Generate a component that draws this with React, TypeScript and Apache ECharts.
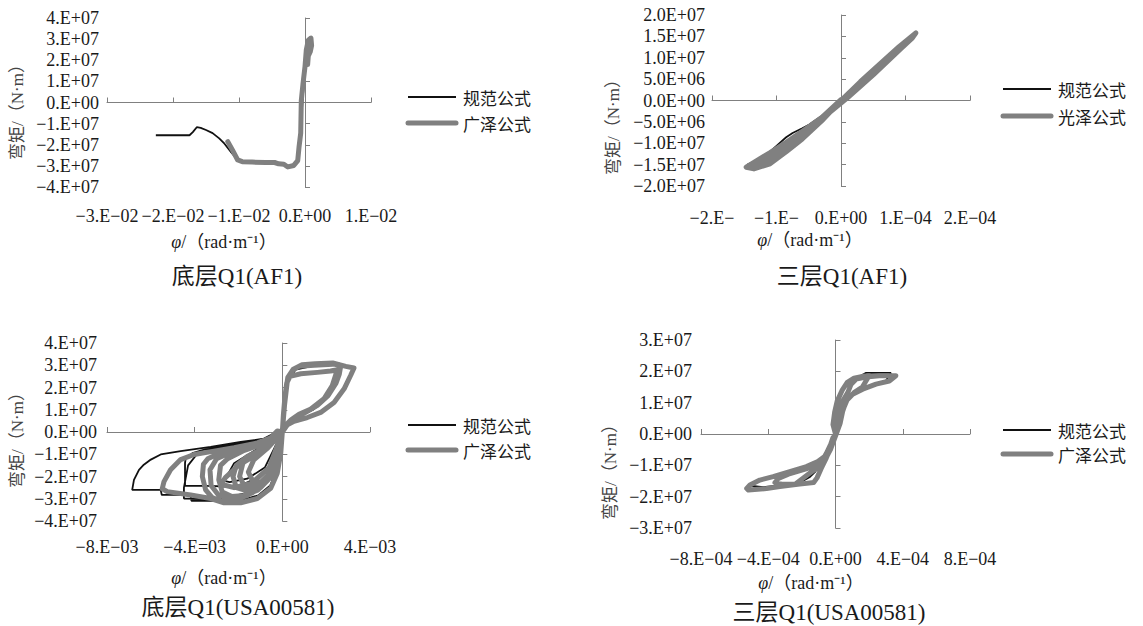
import React, { useEffect, useRef } from "react";
import * as echarts from "echarts";

const SERIF = "Liberation Serif, Times New Roman, serif";
const CJK = "Noto Sans CJK SC, sans-serif";
const MIX = "Liberation Serif, Noto Sans CJK SC, serif";

const codeName = "规范公式";
const gzName = "广泽公式";
const gzName2 = "光泽公式";
const yAxisName = "弯矩/（N·m）";
const xAxisNameTail = "/（rad·m⁻¹）";
const titles = ["底层Q1(AF1)", "三层Q1(AF1)", "底层Q1(USA00581)", "三层Q1(USA00581)"];

// ---------- Panel 1: 底层Q1(AF1)  (x in 1e-2, y in 1e7)
const p1XUnit = 1e-2;
const p1YUnit = 1e7;
const p1XLabels = ["−3.E−02", "−2.E−02", "−1.E−02", "0.E+00", "1.E−02"];
const p1YLabels = ["−4.E+07", "−3.E+07", "−2.E+07", "−1.E+07", "0.E+00", "1.E+07", "2.E+07", "3.E+07", "4.E+07"];
const p1Code = [
  [-2.26, -1.55], [-1.75, -1.55], [-1.70, -1.40], [-1.64, -1.17], [-1.58, -1.20], [-1.50, -1.30],
  [-1.40, -1.45], [-1.30, -1.70], [-1.22, -1.95], [-1.12, -2.35], [-1.02, -2.72], [-0.90, -2.80],
  [-0.70, -2.82], [-0.46, -2.83], [-0.35, -2.92], [-0.26, -3.02], [-0.16, -2.96], [-0.10, -2.72],
  [-0.08, -2.10], [-0.05, -0.50], [-0.02, 0.80], [0.02, 2.30], [0.06, 2.95],
];
const p1Gz = [
  [-1.17, -1.85], [-1.10, -2.25], [-1.02, -2.72], [-0.95, -2.80], [-0.80, -2.82], [-0.60, -2.84],
  [-0.46, -2.84], [-0.40, -2.90], [-0.32, -2.92], [-0.26, -3.05], [-0.17, -2.98], [-0.11, -2.75],
  [-0.09, -2.10], [-0.065, -1.45], [-0.056, 0.10], [-0.03, 0.90], [0.00, 1.70], [0.02, 2.50],
  [0.05, 2.95], [0.09, 3.05], [0.10, 2.70], [0.08, 2.40], [0.05, 2.20], [0.04, 1.80],
];

// ---------- Panel 2: 三层Q1(AF1)  (x in 1e-4, y in 1e7)
const p2XUnit = 1e-4;
const p2YUnit = 1e7;
const p2XLabels = ["−2.E−", "−1.E−", "0.E+00", "1.E−04", "2.E−04"];
const p2YLabels = ["−2.0E+07", "−1.5E+07", "−1.0E+07", "−5.0E+06", "0.0E+00", "5.0E+06", "1.0E+07", "1.5E+07", "2.0E+07"];
const p2Code = [
  [-1.45, -1.50], [-1.30, -1.40], [-1.13, -1.24], [-1.00, -1.06], [-0.85, -0.86], [-0.75, -0.76],
  [-0.60, -0.65], [-0.49, -0.56], [-0.30, -0.36], [0, 0], [0.30, 0.42], [0.60, 0.82], [0.90, 1.22], [1.12, 1.52],
];
const p2Gz = [
  [0, 0], [0.30, 0.44], [0.60, 0.85], [0.90, 1.26], [1.16, 1.58], [1.10, 1.45], [0.80, 1.03], [0.50, 0.62],
  [0.20, 0.20], [0, -0.05], [-0.30, -0.40], [-0.60, -0.72], [-0.85, -0.98], [-1.10, -1.22], [-1.30, -1.40],
  [-1.47, -1.56], [-1.35, -1.60], [-1.10, -1.48], [-0.85, -1.20], [-0.60, -0.90], [-0.30, -0.48], [0, 0],
  [0.35, 0.50], [0.70, 0.95], [1.00, 1.38], [1.12, 1.50], [0.90, 1.17], [0.50, 0.60], [0.10, 0.06],
  [-0.40, -0.56], [-0.80, -1.02], [-1.20, -1.38], [-1.42, -1.54], [-1.20, -1.46], [-0.90, -1.16],
  [-0.50, -0.68], [0, 0.02],
];

// ---------- Panel 3: 底层Q1(USA00581)  (x in 1e-3, y in 1e7)
const p3XUnit = 1e-3;
const p3YUnit = 1e7;
const p3XLabels = ["−8.E−03", "−4.E=03", "0.E+00", "4.E−03"];
const p3YLabels = ["−4.E+07", "−3.E+07", "−2.E+07", "−1.E+07", "0.E+00", "1.E+07", "2.E+07", "3.E+07", "4.E+07"];
const p3Code = [
  [0, 0], [0.1, 1.2], [0.25, 2.3], [0.6, 2.8], [1.5, 3.0], [2.3, 3.05], [2.6, 3.08], [2.55, 2.6], [2.4, 2.2],
  [2.2, 1.8], [1.9, 1.4], [1.4, 1.0], [0.8, 0.7], [0.3, 0.35], [0, 0],
  [-1.2, -0.8], [-2.2, -1.4], [-2.65, -2.2], [-2.4, -2.25], [-1.6, -2.1], [-0.8, -1.6], [0, 0],
  [-1.5, -0.55], [-3.0, -0.75], [-3.9, -1.0], [-4.3, -1.5], [-4.49, -2.5], [-4.49, -2.99], [-3.5, -3.0],
  [-2.5, -2.95], [-1.5, -2.7], [-0.7, -2.2], [-0.2, -1.2], [0, 0],
  [-1.0, -0.4], [-2.5, -0.62], [-3.6, -0.8], [-4.1, -0.95], [-4.41, -1.2], [-4.44, -1.39], [-4.44, -2.42],
  [-3.5, -2.42], [-2.51, -2.45], [-1.8, -2.35], [-1.0, -2.0], [-0.4, -1.3], [0, 0],
  [-0.3, -0.03], [-0.84, -0.3], [-1.9, -0.45], [-3.27, -0.67], [-4.64, -0.86], [-5.55, -1.01], [-6.0, -1.24],
  [-6.32, -1.47], [-6.54, -1.7], [-6.77, -2.15], [-6.85, -2.6], [-5.55, -2.6], [-5.5, -2.83], [-4.18, -2.83],
  [-4.15, -3.09], [-3.12, -3.09], [-2.5, -3.1], [-1.8, -3.05], [-1.1, -2.85], [-0.55, -2.4], [-0.25, -1.7],
  [-0.08, -0.8], [0, 0],
];
const p3Gz = [
  [0, 0], [-0.7, -0.75], [-1.3, -1.25], [-1.55, -1.8], [-1.3, -2.3], [-0.8, -2.2], [-0.4, -1.5], [0, 0],
  [0.05, 0.8], [0.12, 1.6], [0.2, 2.2], [0.35, 2.5], [0.84, 2.62], [1.6, 2.68], [2.2, 2.74], [2.51, 2.8],
  [2.28, 2.09], [1.9, 1.49], [1.3, 1.03], [0.76, 0.8], [0.4, 0.55], [0.15, 0.3], [0, 0],
  [-0.6, -0.6], [-1.3, -0.95], [-1.8, -1.4], [-1.95, -2.0], [-1.7, -2.5], [-1.2, -2.45], [-0.6, -1.9],
  [-0.2, -1.0], [0, 0],
  [-0.8, -0.7], [-1.6, -1.1], [-2.1, -1.5], [-2.25, -2.0], [-2.1, -2.5], [-1.6, -2.65], [-1.0, -2.4],
  [-0.5, -1.8], [0, 0],
  [0.1, 1.2], [0.23, 2.3], [0.46, 2.77], [0.76, 2.95], [1.45, 3.0], [2.3, 3.05], [2.67, 3.0], [2.6, 2.6],
  [2.45, 2.2], [2.1, 1.65], [1.6, 1.2], [1.0, 0.85], [0.5, 0.6], [0.1, 0.2], [0, 0],
  [-0.8, -0.5], [-1.8, -0.85], [-2.5, -1.2], [-2.82, -1.5], [-2.9, -2.15], [-2.74, -2.7], [-2.3, -2.9],
  [-1.7, -2.85], [-1.1, -2.6], [-0.6, -2.1], [-0.25, -1.4], [0, 0],
  [-0.5, -0.45], [-1.4, -0.7], [-2.3, -0.9], [-3.0, -1.2], [-3.3, -1.7], [-3.25, -2.4], [-2.9, -2.85],
  [-2.2, -2.98], [-1.4, -2.75], [-0.8, -2.3], [-0.3, -1.5], [0, 0],
  [0.08, 1.0], [0.15, 1.8], [0.25, 2.45], [0.5, 2.82], [0.9, 3.02], [1.5, 3.07], [2.3, 3.1], [2.9, 2.95],
  [3.27, 2.88], [3.12, 2.55], [2.82, 1.94], [2.36, 1.33], [1.75, 0.88], [1.14, 0.65], [0.53, 0.48],
  [0.23, 0.32], [0, 0],
  [-0.6, -0.35], [-1.5, -0.6], [-2.4, -0.8], [-2.97, -1.0], [-3.4, -1.2], [-3.6, -1.45], [-3.65, -2.0],
  [-3.5, -2.6], [-3.2, -2.95], [-2.8, -3.1], [-2.2, -3.05], [-1.6, -2.85], [-1.0, -2.5], [-0.5, -2.0],
  [-0.2, -1.2], [0, 0],
  [-1.0, -0.9], [-2.0, -1.5], [-2.6, -2.05], [-2.8, -2.35], [-2.2, -2.5], [-1.4, -2.3], [-0.6, -1.6], [0, 0],
  [-0.23, 0.05], [-0.53, -0.26], [-1.14, -0.49], [-2.2, -0.71], [-3.12, -0.86], [-4.03, -1.01],
  [-4.64, -1.24], [-5.1, -1.7], [-5.4, -2.23], [-5.48, -2.55], [-5.25, -2.68], [-4.18, -2.83],
  [-3.27, -2.99], [-2.66, -3.18], [-1.9, -3.18], [-1.14, -2.99], [-0.53, -2.53], [-0.23, -1.85],
  [-0.07, -0.94], [0, 0],
];

// ---------- Panel 4: 三层Q1(USA00581)  (x in 1e-4, y in 1e7)
const p4XUnit = 1e-4;
const p4YUnit = 1e7;
const p4XLabels = ["−8.E−04", "−4.E−04", "0.E+00", "4.E−04", "8.E−04"];
const p4YLabels = ["−3.E+07", "−2.E+07", "−1.E+07", "0.E+00", "1.E+07", "2.E+07", "3.E+07"];
const p4Code = [
  [0, 0], [0.05, 0.5], [0.25, 0.85], [0.45, 1.07], [0.75, 1.33], [0.95, 1.6], [1.25, 1.78], [1.82, 1.95],
  [3.3, 1.95], [3.0, 1.7], [2.3, 1.58], [1.6, 1.42], [1.0, 1.25], [0.6, 1.02], [0.4, 0.7], [0.2, 0.28],
  [0, 0], [-0.2, -0.15], [-0.4, -0.48], [-0.7, -0.74], [-1.1, -0.9], [-1.8, -1.06], [-2.8, -1.22],
  [-3.8, -1.38], [-4.6, -1.5], [-5.1, -1.65], [-4.3, -1.7], [-3.3, -1.64], [-2.4, -1.6], [-1.95, -1.5],
  [-1.55, -1.38], [-1.2, -1.2], [-0.8, -0.8], [-0.4, -0.4], [0, 0],
];
const p4Gz = [
  [0, 0], [0.04, 0.51], [0.24, 0.84], [0.43, 1.05], [0.73, 1.32], [0.93, 1.59], [1.22, 1.75], [1.82, 1.82],
  [2.6, 1.86], [3.59, 1.86], [3.2, 1.69], [2.41, 1.59], [1.62, 1.43], [1.02, 1.27], [0.63, 1.05],
  [0.43, 0.73], [0.24, 0.3], [0.02, 0],
  [-0.16, -0.13], [-0.36, -0.45], [-0.65, -0.72], [-1.05, -0.88], [-1.73, -1.04], [-2.72, -1.2],
  [-3.71, -1.36], [-4.5, -1.47], [-5.09, -1.63], [-5.28, -1.74], [-5.18, -1.79], [-4.1, -1.74],
  [-3.31, -1.68], [-2.13, -1.6], [-1.3, -1.55], [-1.1, -1.4], [-0.85, -1.1], [-0.55, -0.77],
  [-0.25, -0.4], [0, 0],
  [-0.15, 0.3], [-0.05, 0.7], [0.1, 1.05], [0.4, 1.4], [0.7, 1.65], [1.1, 1.78], [1.6, 1.84], [2.0, 1.86],
  [1.6, 1.5], [1.1, 1.32], [0.7, 1.1], [0.45, 0.78], [0.28, 0.35], [0.08, 0.05], [-0.3, -0.5],
  [-0.6, -0.8], [-1.0, -0.98], [-1.8, -1.12], [-2.8, -1.28], [-3.4, -1.42], [-3.6, -1.55], [-3.2, -1.6],
  [-2.4, -1.6], [-2.03, -1.45], [-1.6, -1.28], [-1.14, -1.1], [-0.7, -0.8], [-0.35, -0.4], [0, 0],
];

// ---------- Layout / styling (not data)
const BLACK = "#111111";
const GRAY = "#808080";
const AXIS = "#808080";
const TEXT = "#1a1a1a";

const panels = [
  {
    grid: { left: 107, top: 18, width: 264, height: 169 },
    x: { min: -3, max: 1, interval: 1, unit: p1XUnit, labels: p1XLabels, margin: 20 },
    y: { min: -4, max: 4, interval: 1, unit: p1YUnit, labels: p1YLabels, margin: 8 },
    code: p1Code, gz: p1Gz, gzLabel: gzName,
    legend: { x: 408, y: 97, gap: 26 }, yName: [17, 108], xName: [224, 242], title: [237, 276],
  },
  {
    grid: { left: 712, top: 15, width: 258, height: 171 },
    x: { min: -2, max: 2, interval: 1, unit: p2XUnit, labels: p2XLabels, margin: 23 },
    y: { min: -2, max: 2, interval: 0.5, unit: p2YUnit, labels: p2YLabels, margin: 7 },
    code: p2Code, gz: p2Gz, gzLabel: gzName2,
    legend: { x: 1003, y: 89, gap: 27 }, yName: [613, 123], xName: [810, 240], title: [842, 276],
  },
  {
    grid: { left: 107, top: 343, width: 263, height: 178 },
    x: { min: -8, max: 4, interval: 4, unit: p3XUnit, labels: p3XLabels, margin: 17 },
    y: { min: -4, max: 4, interval: 1, unit: p3YUnit, labels: p3YLabels, margin: 10 },
    code: p3Code, gz: p3Gz, gzLabel: gzName,
    legend: { x: 408, y: 425, gap: 25 }, yName: [17, 436], xName: [224, 578], title: [238, 607],
  },
  {
    grid: { left: 701, top: 340, width: 269, height: 188 },
    x: { min: -8, max: 8, interval: 4, unit: p4XUnit, labels: p4XLabels, margin: 22 },
    y: { min: -3, max: 3, interval: 1, unit: p4YUnit, labels: p4YLabels, margin: 9 },
    code: p4Code, gz: p4Gz, gzLabel: gzName,
    legend: { x: 1003, y: 430, gap: 24 }, yName: [610, 468], xName: [811, 583], title: [829, 612],
  },
];

function buildOption() {
  const grid: any[] = [];
  const xAxis: any[] = [];
  const yAxis: any[] = [];
  const series: any[] = [];
  const graphic: any[] = [];

  panels.forEach((p, i) => {
    grid.push({ ...p.grid, containLabel: false });
    const xr = { min: p.x.min * p.x.unit, max: p.x.max * p.x.unit, interval: p.x.interval * p.x.unit };
    const yr = { min: p.y.min * p.y.unit, max: p.y.max * p.y.unit, interval: p.y.interval * p.y.unit };
    const xFmt = (v: number) => p.x.labels[Math.round((v - xr.min) / xr.interval)] ?? "";
    const yFmt = (v: number) => p.y.labels[Math.round((v - yr.min) / yr.interval)] ?? "";
    xAxis.push({
      type: "value", gridIndex: i, position: "bottom", ...xr,
      axisLine: { show: true, onZero: true, lineStyle: { color: AXIS, width: 1 } },
      axisTick: { show: true, inside: true, length: 5, lineStyle: { color: AXIS, width: 1 } },
      axisLabel: { show: false }, splitLine: { show: false },
    });
    xAxis.push({
      type: "value", gridIndex: i, position: "bottom", ...xr,
      axisLine: { show: false, onZero: false }, axisTick: { show: false }, splitLine: { show: false },
      axisLabel: {
        show: true, margin: p.x.margin, formatter: xFmt, showMinLabel: true, showMaxLabel: true,
        fontFamily: SERIF, fontSize: 18, color: TEXT,
      },
    });
    yAxis.push({
      type: "value", gridIndex: i, position: "left", ...yr,
      axisLine: { show: true, onZero: true, lineStyle: { color: AXIS, width: 1 } },
      axisTick: { show: true, inside: true, length: 5, lineStyle: { color: AXIS, width: 1 } },
      axisLabel: { show: false }, splitLine: { show: false },
    });
    yAxis.push({
      type: "value", gridIndex: i, position: "left", ...yr,
      axisLine: { show: false, onZero: false }, axisTick: { show: false }, splitLine: { show: false },
      axisLabel: {
        show: true, margin: p.y.margin, formatter: yFmt, showMinLabel: true, showMaxLabel: true,
        fontFamily: SERIF, fontSize: 18, color: TEXT,
      },
    });

    const conv = (arr: number[][]) => arr.map(([a, b]) => [a * p.x.unit, b * p.y.unit]);
    series.push({
      type: "line", name: codeName, xAxisIndex: 2 * i, yAxisIndex: 2 * i,
      data: conv(p.code), symbol: "none", smooth: false, z: 2,
      lineStyle: { color: BLACK, width: 1.8 }, itemStyle: { color: BLACK },
    });
    series.push({
      type: "line", name: p.gzLabel, xAxisIndex: 2 * i, yAxisIndex: 2 * i,
      data: conv(p.gz), symbol: "none", smooth: false, z: 3,
      lineStyle: { color: GRAY, width: 5, join: "round", cap: "round" }, itemStyle: { color: GRAY },
    });

    const lg = p.legend;
    graphic.push({ type: "line", shape: { x1: lg.x, y1: lg.y, x2: lg.x + 48, y2: lg.y }, style: { stroke: BLACK, lineWidth: 2 } });
    graphic.push({ type: "text", x: lg.x + 55, y: lg.y, style: { text: codeName, font: `17px ${CJK}`, fill: TEXT, verticalAlign: "middle", align: "left" } });
    graphic.push({ type: "line", shape: { x1: lg.x, y1: lg.y + lg.gap, x2: lg.x + 48, y2: lg.y + lg.gap }, style: { stroke: GRAY, lineWidth: 5, lineCap: "round" } });
    graphic.push({ type: "text", x: lg.x + 55, y: lg.y + lg.gap, style: { text: p.gzLabel, font: `17px ${CJK}`, fill: TEXT, verticalAlign: "middle", align: "left" } });

    graphic.push({
      type: "text", x: p.yName[0], y: p.yName[1], rotation: Math.PI / 2,
      style: { text: yAxisName, font: `17px ${MIX}`, fill: "#444", align: "center", verticalAlign: "middle" },
    });
    graphic.push({
      type: "text", x: p.xName[0], y: p.xName[1],
      style: {
        text: `{i|φ}{n|${xAxisNameTail}}`, align: "center", verticalAlign: "middle",
        rich: {
          i: { fontFamily: SERIF, fontStyle: "italic", fontSize: 18, fill: TEXT, color: TEXT },
          n: { fontFamily: MIX, fontSize: 18, fill: TEXT, color: TEXT },
        },
      },
    });
    graphic.push({
      type: "text", x: p.title[0], y: p.title[1],
      style: { text: titles[i], font: `23px ${MIX}`, fill: TEXT, align: "center", verticalAlign: "middle" },
    });
  });

  return { animation: false, backgroundColor: "#ffffff", grid, xAxis, yAxis, series, graphic };
}

export default function App() {
  const ref = useRef<HTMLDivElement>(null);
  useEffect(() => {
    if (!ref.current) return;
    const chart = echarts.init(ref.current, undefined, { renderer: "svg" });
    chart.setOption(buildOption() as any);
    return () => chart.dispose();
  }, []);
  return (
    <div
      ref={ref}
      style={{ position: "absolute", left: 0, top: 0, width: 1143, height: 626, background: "#fff" }}
    />
  );
}
